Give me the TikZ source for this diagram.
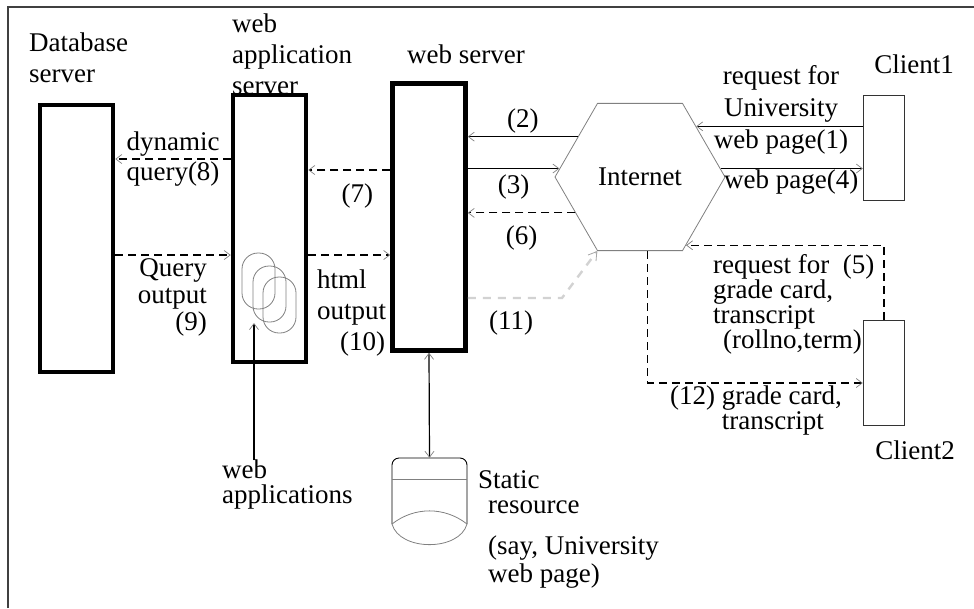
\documentclass[tikz,border=0pt]{standalone}
\usepackage{fontspec}
\setmainfont{Liberation Serif}
\usetikzlibrary{shapes.geometric, arrows.meta}
\newcommand\tightlines{\lineskiplimit=-50pt\relax}
\tikzset{
  srv/.style={draw, line width=4.5pt, fill=white, minimum width=73, minimum height=267, inner sep=0pt},
  cli/.style={draw=black!80, line width=1.4pt, fill=white, minimum width=41, minimum height=105, inner sep=0pt},
  net/.style={regular polygon, regular polygon sides=6, draw=gray, line width=0.8pt, minimum size=170,
              inner sep=0pt, font=\fontsize{27}{31}\selectfont},
  arr/.style={-{Straight Barb[length=6pt,width=9pt,line width=0.7pt,color=gray]}, line width=1.2pt},
  dsh/.style={arr, dash pattern=on 8pt off 5pt},
  gdsh/.style={-{Straight Barb[length=8pt,width=10pt,line width=0.8pt,color=gray!70]}, gray!35,
               line width=2.4pt, dash pattern=on 8pt off 7pt},
  app/.style={draw=gray, line width=0.8pt, rounded corners=16pt},
  lbl/.style={font=\fontsize{27}{31}\selectfont, inner sep=0pt, align=left},
  lblt/.style={font=\fontsize{27}{25}\selectfont\tightlines, inner sep=0pt, align=left}
}

\begin{document}
\begin{tikzpicture}[x=1pt, y=-1pt]
  \useasboundingbox (0,0) rectangle (974,608);
  \draw[line width=1.6pt, black!75] (8,608) -- (8,7) -- (974,7);
  % Titles
  \node[lbl, anchor=north west] (dbl) at (29,33) {Database\\server};
  \node[lbl, anchor=north west] (wal) at (232,14) {web\\application\\server};
  \node[lbl, anchor=base] (wsl) at (466,63) {web server};
  \node[lbl, anchor=base] (c1l) at (914,73) {Client1};
  \node[lbl, anchor=base] (c2l) at (915,459) {Client2};
  % Servers, Internet, clients
  \node[srv] (dbs) at (76.5,238.5) {};
  \node[srv] (was) at (269.5,228.5) {};
  \node[srv] (ws) at (429,217) {};
  \node[net] (inet) at (640,177) {Internet};
  \node[cli] (c1) at (884,148) {};
  \node[cli] (c2) at (884,373) {};
  \node (store) [minimum width=75, minimum height=87, inner sep=0pt] at (429.5,501.5) {};
  % web applications in the application server
  \foreach \dx/\dy in {0/0, 11/13, 21/24}
    \draw[app] (242+\dx,253+\dy) rectangle +(33,56);
  % Static resource
  \begin{scope}[shift={(store.center)}]
    \draw[line width=0.9pt, rounded corners=7pt] (-37.5,22.5) -- (-37.5,-43.5) -- (37.5,-43.5) -- (37.5,22.5);
    \draw[gray, line width=0.8pt] (-37.5,-22.5) -- (37.5,-22.5);
    \draw[gray, line width=0.8pt] (-37.5,22.5) .. controls (-15,5) and (15,5) .. (37.5,22.5);
    \draw[gray, line width=0.8pt] (-37.5,22.5) .. controls (-30,50) and (30,50) .. (37.5,22.5);
  \end{scope}
  % Client1 <-> Internet <-> web server
  \draw[arr] (c1.west |- inet.42) -- (inet.42);
  \draw[arr] (inet.6) -- (inet.6 -| c1.west);
  \draw[arr] (inet.147) -- node[lbl, above=3pt] (l2) {(2)} (inet.147 -| ws.east);
  \draw[arr] (ws.east |- inet.174) -- node[lbl, below=6pt] (l3) {(3)} (inet.174);
  \draw[dsh] (inet.209) -- node[lbl, below=12pt] (l6) {(6)} (inet.209 -| ws.east);
  % web server <-> application server <-> database
  \draw[dsh] (ws.west |- 0,170) -- node[lbl, below=13pt, pos=0.4] (l7) {(7)} (was.east |- 0,170);
  \draw[dsh] (was.west |- 0,159) -- node[lbl, above=2pt] (l8a) {dynamic} node[lbl, below=2pt] (l8b) {query(8)} (dbs.east |- 0,159);
  \draw[dsh] (dbs.east |- 0,255) -- (was.west |- 0,255);
  \draw[dsh] (was.east |- 0,255) -- (ws.west |- 0,255);
  \coordinate (bend) at (562,298);
  \draw[gdsh] (ws.east |- bend) -- (bend) -- (inet.240);
  % Client2
  \draw[dsh] (c2.north) |- (inet.304);
  \draw[dsh] (inet.276) |- (c2.west |- 0,383);
  \draw[{Straight Barb[length=6pt,width=9pt,line width=0.7pt,color=gray]}-{Straight Barb[length=6pt,width=9pt,line width=0.7pt,color=gray]}, line width=1.2pt] (ws.south) -- (store.north);
  \coordinate (appin) at (254,323);
  \node[lblt, anchor=north west] (wapl) at (222,460) {web\\applications};
  \draw[arr] (wapl.north -| appin) -- (appin);
  % Labels
  \node[lbl, align=right, anchor=north east, font=\fontsize{27}{27}\selectfont] (l9) at (207,258) {Query\\output\\(9)};
  \node[lbl, anchor=north west] (l10) at (317,270) {html\\output\\\hspace*{23pt}(10)};
  \node[lbl] (l11) at (511,323) {(11)};
  \node[lbl, align=center, anchor=north, font=\fontsize{27}{32}\selectfont] (l1) at (781,65) {request for\\University\\web page(1)};
  \node[lbl, anchor=north west] (l4) at (724,170) {web page(4)};
  \node[lblt, anchor=north west] (l5) at (713,254) {request for\ \ (5)\\grade card,\\transcript\\\hspace*{10pt}(rollno,term)};
  \node[lblt, anchor=north west] (l12) at (670,386) {(12) grade card,\\\phantom{(12)\ }transcript};
  \node[lblt, anchor=north west] (lst) at (478,470) {Static\\\hspace*{10pt}resource};
  \node[lbl, anchor=north west, font=\fontsize{27}{28}\selectfont] (lsay) at (488,536) {(say, University\\web page)};
\end{tikzpicture}
\end{document}
